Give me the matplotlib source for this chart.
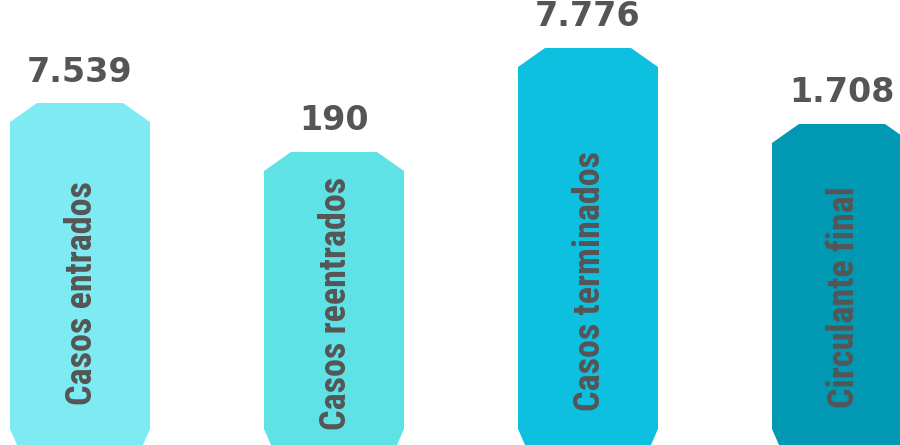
import matplotlib
matplotlib.use("Agg")
import matplotlib.pyplot as plt
from matplotlib.patches import Polygon

categories = ["Casos entrados", "Casos reentrados", "Casos terminados", "Circulante final"]
values = [7539, 190, 7776, 1708]
value_labels = ["7.539", "190", "7.776", "1.708"]
# displayed bar levels (decorative infographic heights)
bar_levels = [342, 293, 397, 321]
colors = ["#7EEAF2", "#5EE2E6", "#0EC0E0", "#0098B2"]

W, H = 900, 445
fig = plt.figure(figsize=(W / 100, H / 100), dpi=100)
ax = fig.add_axes([0, 0, 1, 1])
px = 254.0  # pixels per category unit
ax.set_xlim(-80 / px, 3 + 58 / px)
ax.set_ylim(0, H)
ax.axis("off")

bw = 140 / px
cdx = 27 / px
cdy = 19
bdx = 7 / px
bdy = 16

for i, (lvl, c) in enumerate(zip(bar_levels, colors)):
    l, r = i - bw / 2, i + bw / 2
    pts = [
        (l + 2 * bdx, -bdy), (l, bdy), (l, lvl - cdy), (l + cdx, lvl),
        (r - cdx, lvl), (r, lvl - cdy), (r, bdy), (r - 2 * bdx, -bdy),
    ]
    ax.add_patch(Polygon(pts, closed=True, facecolor=c, edgecolor="none"))
    ax.text(i, lvl + 31, value_labels[i], ha="center", va="center",
            fontsize=24, fontweight="bold", color="#555555", family="DejaVu Sans")
    ax.text(i + 2 / px, 77 + 0.22 * lvl, categories[i], rotation=90,
            ha="center", va="center",
            fontsize=26, fontweight="bold", color="#555555",
            family=["Roboto Condensed", "Roboto", "DejaVu Sans"])

fig.savefig("out.png", dpi=100)
